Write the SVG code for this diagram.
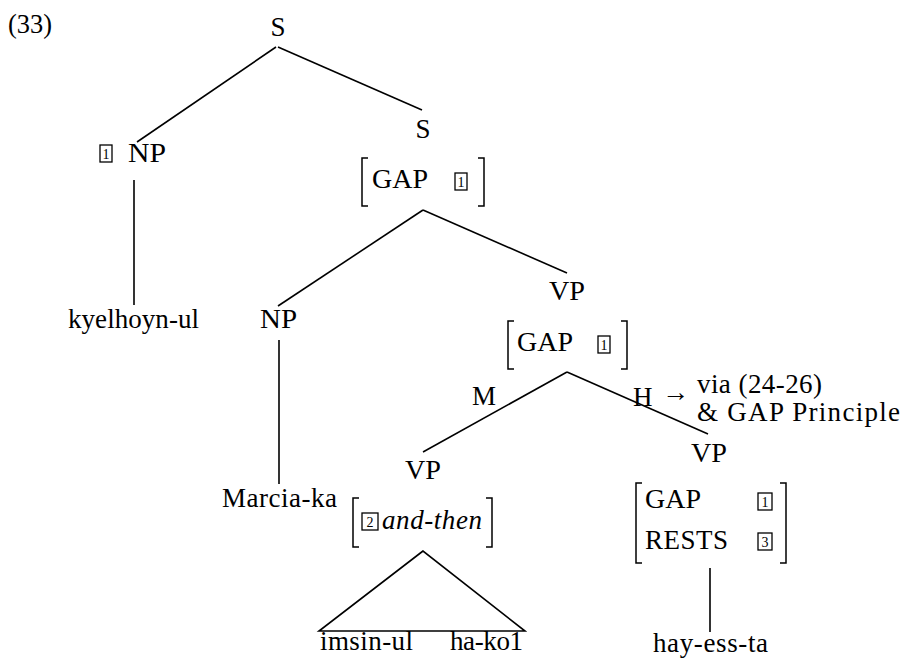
<svg xmlns="http://www.w3.org/2000/svg" width="901" height="658" viewBox="0 0 901 658">
<style>
.t{font-size:27px;fill:#000}
.it{font-style:italic}
.sm{font-size:14px;fill:#000}
.ln{stroke:#000;stroke-width:1.6;fill:none}
.br{stroke:#000;stroke-width:1.5;fill:none}
.bx{stroke:#000;stroke-width:1.3;fill:none}
</style>
<rect width="901" height="658" fill="#fff"/>
<g id="connectors">
<line class="ln" x1="276" y1="47" x2="137" y2="142"/>
<line class="ln" x1="278" y1="47" x2="422" y2="110"/>
<line class="ln" x1="134" y1="180" x2="134" y2="305"/>
<line class="ln" x1="423" y1="210" x2="278" y2="306"/>
<line class="ln" x1="423" y1="210" x2="567" y2="273"/>
<line class="ln" x1="279" y1="340" x2="279" y2="484"/>
<line class="ln" x1="567" y1="372" x2="423" y2="452"/>
<line class="ln" x1="567" y1="372" x2="708" y2="434"/>
<path class="ln" d="M423 551 L319 631 L525 631 Z"/>
<line class="ln" x1="710" y1="568" x2="710" y2="632"/>
</g>
<g font-family="Liberation Serif">
<text class="t" x="8" y="33" textLength="44" lengthAdjust="spacingAndGlyphs">(33)</text>
<g id="s-root"><text class="t" x="278" y="36" text-anchor="middle">S</text></g>
<g id="np1">
<rect class="bx" x="100" y="145" width="12" height="17"/>
<text class="sm" x="106" y="159" text-anchor="middle">1</text>
<text class="t" x="128" y="162" textLength="38" lengthAdjust="spacingAndGlyphs">NP</text>
</g>
<g id="s-gap">
<text class="t" x="423" y="138" text-anchor="middle">S</text>
<path class="br" d="M368 158 H362 V206 H368 M478 158 H484 V206 H478"/>
<text class="t" x="372" y="188" textLength="56" lengthAdjust="spacingAndGlyphs">GAP</text>
<rect class="bx" x="455" y="173" width="12" height="17"/>
<text class="sm" x="461" y="187" text-anchor="middle">1</text>
</g>
<g id="kyelhoyn"><text class="t" x="68" y="328" textLength="131">kyelhoyn-ul</text></g>
<g id="np2"><text class="t" x="260" y="328" textLength="37" lengthAdjust="spacingAndGlyphs">NP</text></g>
<g id="marcia"><text class="t" x="222" y="507" textLength="115">Marcia-ka</text></g>
<g id="vp-gap">
<text class="t" x="549" y="300" textLength="36" lengthAdjust="spacingAndGlyphs">VP</text>
<path class="br" d="M514 321 H508 V369 H514 M621 321 H627 V369 H621"/>
<text class="t" x="517" y="351" textLength="56" lengthAdjust="spacingAndGlyphs">GAP</text>
<rect class="bx" x="598" y="336" width="12" height="17"/>
<text class="sm" x="604" y="350" text-anchor="middle">1</text>
</g>
<g id="labels">
<text class="t" x="472" y="405">M</text>
<text class="t" x="633" y="406">H</text>
<text class="t" x="662" y="401">→</text>
<text class="t" x="697" y="393" textLength="125">via (24-26)</text>
<text class="t" x="697" y="421" textLength="203">&amp; GAP Principle</text>
</g>
<g id="vp-m">
<text class="t" x="405" y="479" textLength="36" lengthAdjust="spacingAndGlyphs">VP</text>
<path class="br" d="M359 498 H353 V547 H359 M486 498 H492 V547 H486"/>
<rect class="bx" x="362" y="513" width="16" height="17"/>
<text class="sm" x="370" y="527" text-anchor="middle">2</text>
<text class="t it" x="382" y="529" textLength="100">and-then</text>
</g>
<g id="words">
<text class="t" x="320" y="650" textLength="93">imsin-ul</text>
<text class="t" x="450" y="650" textLength="73">ha-ko1</text>
</g>
<g id="vp-h">
<text class="t" x="691" y="462" textLength="36" lengthAdjust="spacingAndGlyphs">VP</text>
<path class="br" d="M642 483 H636 V563 H642 M780 483 H786 V563 H780"/>
<text class="t" x="645" y="508" textLength="56" lengthAdjust="spacingAndGlyphs">GAP</text>
<rect class="bx" x="758" y="493" width="14" height="17"/>
<text class="sm" x="765" y="507" text-anchor="middle">1</text>
<text class="t" x="645" y="549" textLength="83">RESTS</text>
<rect class="bx" x="758" y="533" width="14" height="17"/>
<text class="sm" x="765" y="547" text-anchor="middle">3</text>
</g>
<g id="hay"><text class="t" x="653" y="652" textLength="115">hay-ess-ta</text></g>
</g>
</svg>
